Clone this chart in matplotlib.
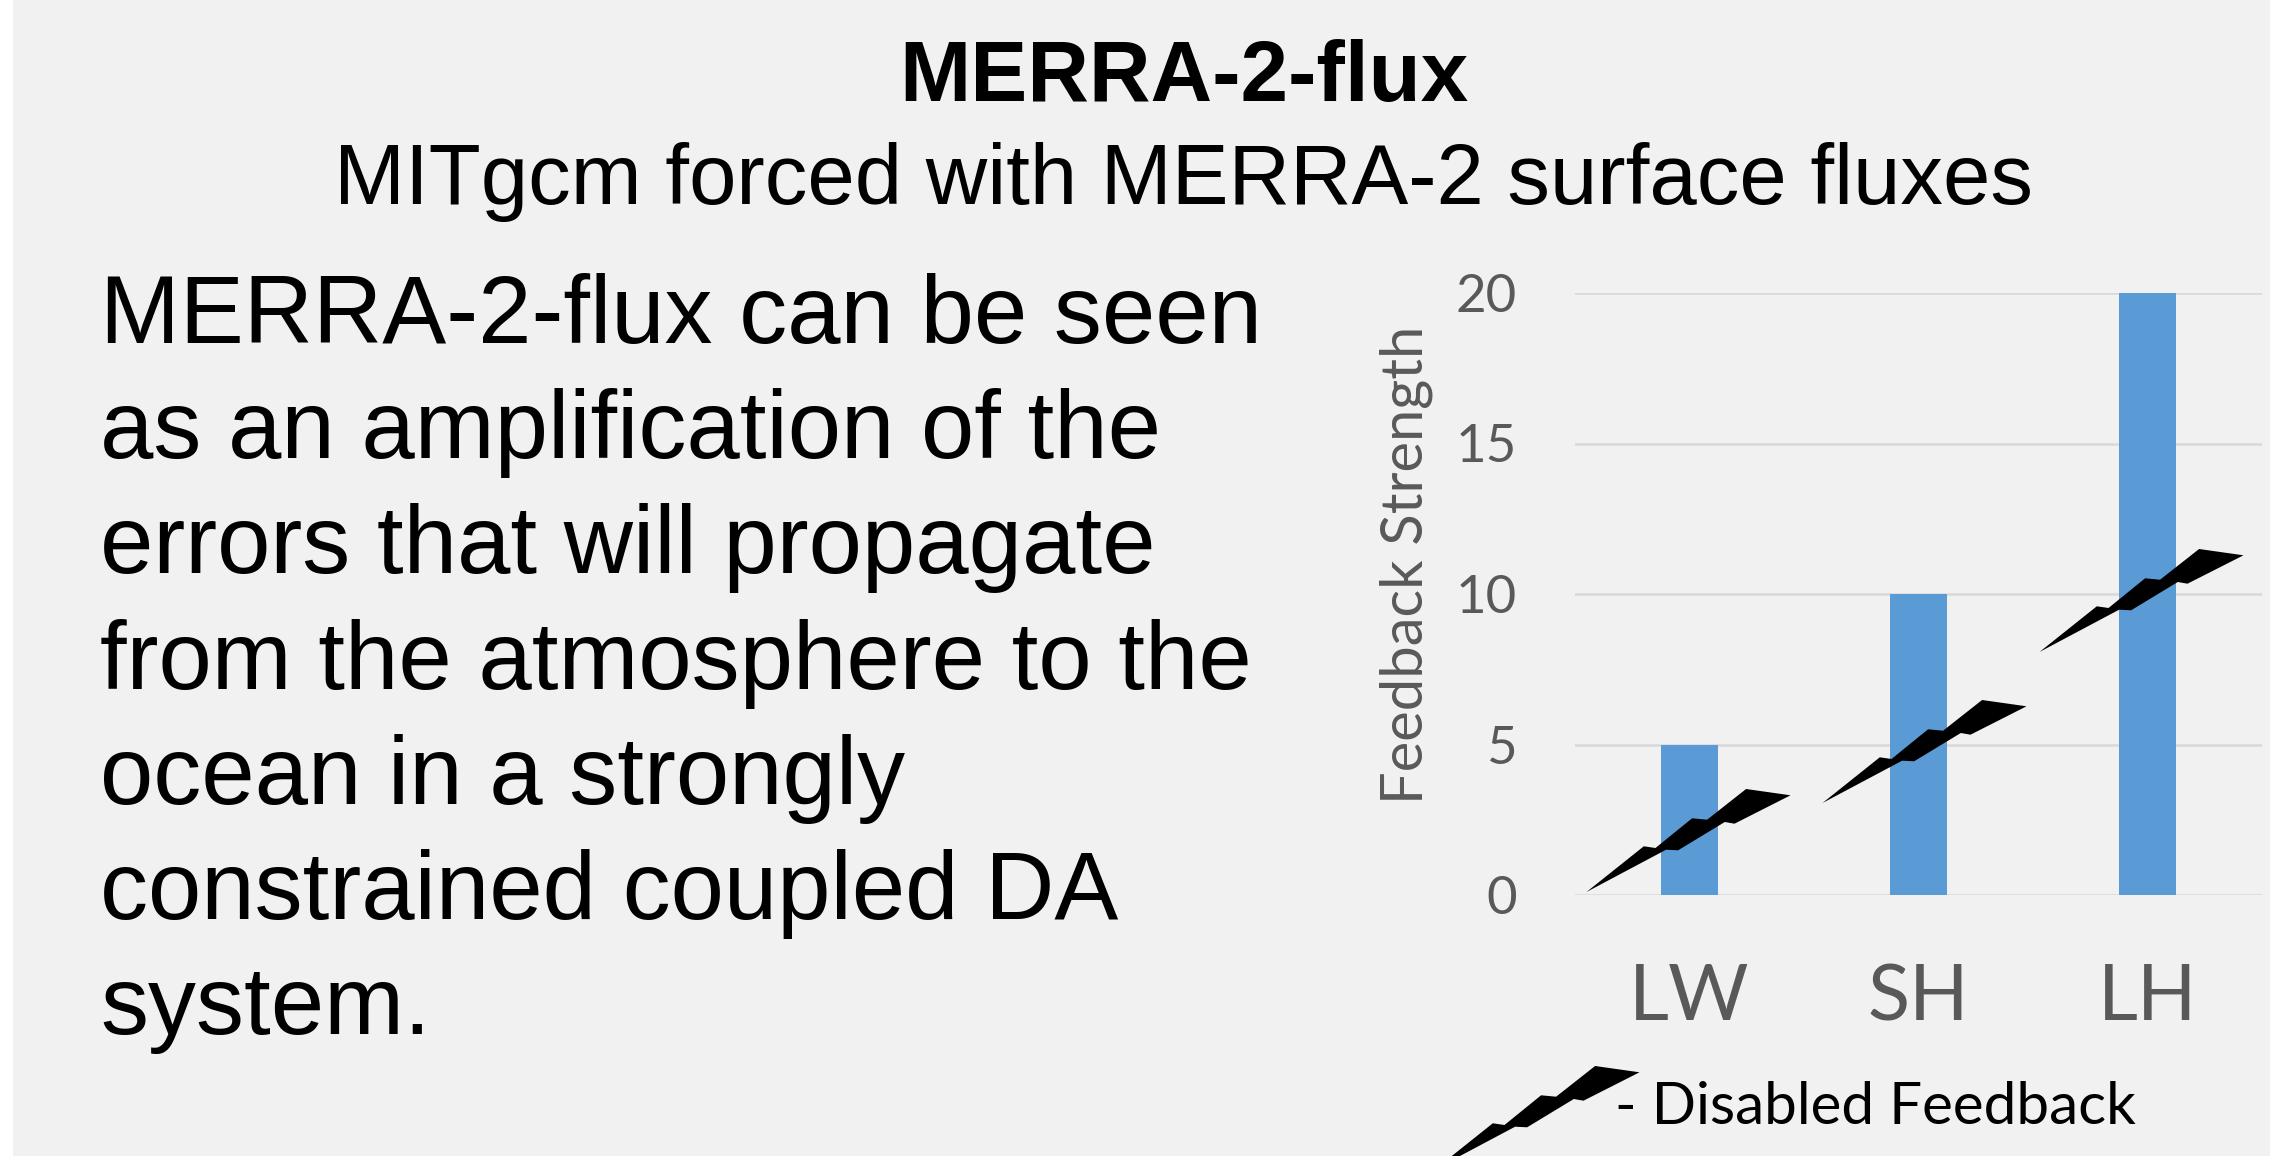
import numpy as np
import matplotlib
matplotlib.use("Agg")
import matplotlib.pyplot as plt
from matplotlib.path import Path
from matplotlib.patches import Rectangle

W, H = 2270, 1156

title = "MERRA-2-flux"
subtitle = "MITgcm forced with MERRA-2 surface fluxes"
body_lines = ["MERRA-2-flux can be seen",
              "as an amplification of the",
              "errors that will propagate",
              "from the atmosphere to the",
              "ocean in a strongly",
              "constrained coupled DA",
              "system."]

categories = ["LW", "SH", "LH"]
feedback = [5, 10, 20]
yticks = [0, 5, 10, 15, 20]

# "disabled" bolts, data coords (the last one is the legend key)
bolt_x = [-0.006, 1.024, 1.97, -0.667]
bolt_y = [1.84, 4.8, 9.8, -7.37]

# bolt outline in pixels around its centre, y up
bolt_outline = np.array([(-102, -51.5), (-44.7, -5.8), (-33, -7.5), (3.6, 22.2), (18.6, 20.8), (57.6, 51.5),
                         (102, 45.2), (46, 16.8), (36.3, 18.5), (-10.4, -9.8), (-22.4, -9.2)])


def px(x, y):
    return x / W, 1 - y / H


fig = plt.figure(figsize=(W / 100, H / 100), dpi=100, facecolor="white")
fig.patches.append(Rectangle((13 / W, 0), 1 - 13 / W, 1, transform=fig.transFigure, facecolor="#f1f1f1", edgecolor="none", zorder=-1))

fig.text(*px(1184, 101), title, family="Liberation Sans", weight="bold", fontsize=61.5, ha="center", va="baseline")
fig.text(*px(1184, 204), subtitle, family="Liberation Sans", fontsize=61.3, ha="center", va="baseline")

for i, line in enumerate(body_lines):
    fig.text(*px(100, 343 + i * 115.2), line, family="Liberation Sans", fontsize=69, ha="left", va="baseline")

ax = fig.add_axes([1575 / W, 1 - 895 / H, 687 / W, 602 / H])
ax.patch.set_alpha(0)
ax.set_xlim(-0.5, 2.5)
ax.set_ylim(0, 20)
ax.grid(axis="y", color="#d9d9d9", lw=1.8, zorder=1)
ax.set_axisbelow(True)
for s in ax.spines.values():
    s.set_visible(False)

ax.bar(range(3), feedback, width=0.245, color="#5b9bd5", zorder=2)

ax.set_yticks(yticks)
ax.set_xticks(range(3))
ax.set_xticklabels(categories)
ax.tick_params(axis="y", length=0, pad=42, labelsize=38, labelcolor="#595959")
ax.tick_params(axis="x", length=0, pad=49, labelsize=56, labelcolor="#595959")
for lab in ax.get_xticklabels() + ax.get_yticklabels():
    lab.set_family("Lato")
ax.set_ylabel("Feedback Strength", family="Lato", fontsize=41.7, color="#595959")
ax.yaxis.set_label_coords(-0.207, 0.548)

# custom markers get rescaled so the largest coordinate is half the marker size
bolt_path = Path(np.vstack([bolt_outline, bolt_outline[0]]), closed=True)
ms = 2 * np.abs(bolt_outline).max() * 0.72
ax.plot(bolt_x, bolt_y, ls="none", marker=bolt_path, ms=ms, mfc="black", mec="none", clip_on=False, zorder=3)

fig.text(*px(1615, 1124), "- Disabled Feedback", family="Lato", fontsize=42, color="black", ha="left", va="baseline")

fig.savefig("out.png", dpi=100)
